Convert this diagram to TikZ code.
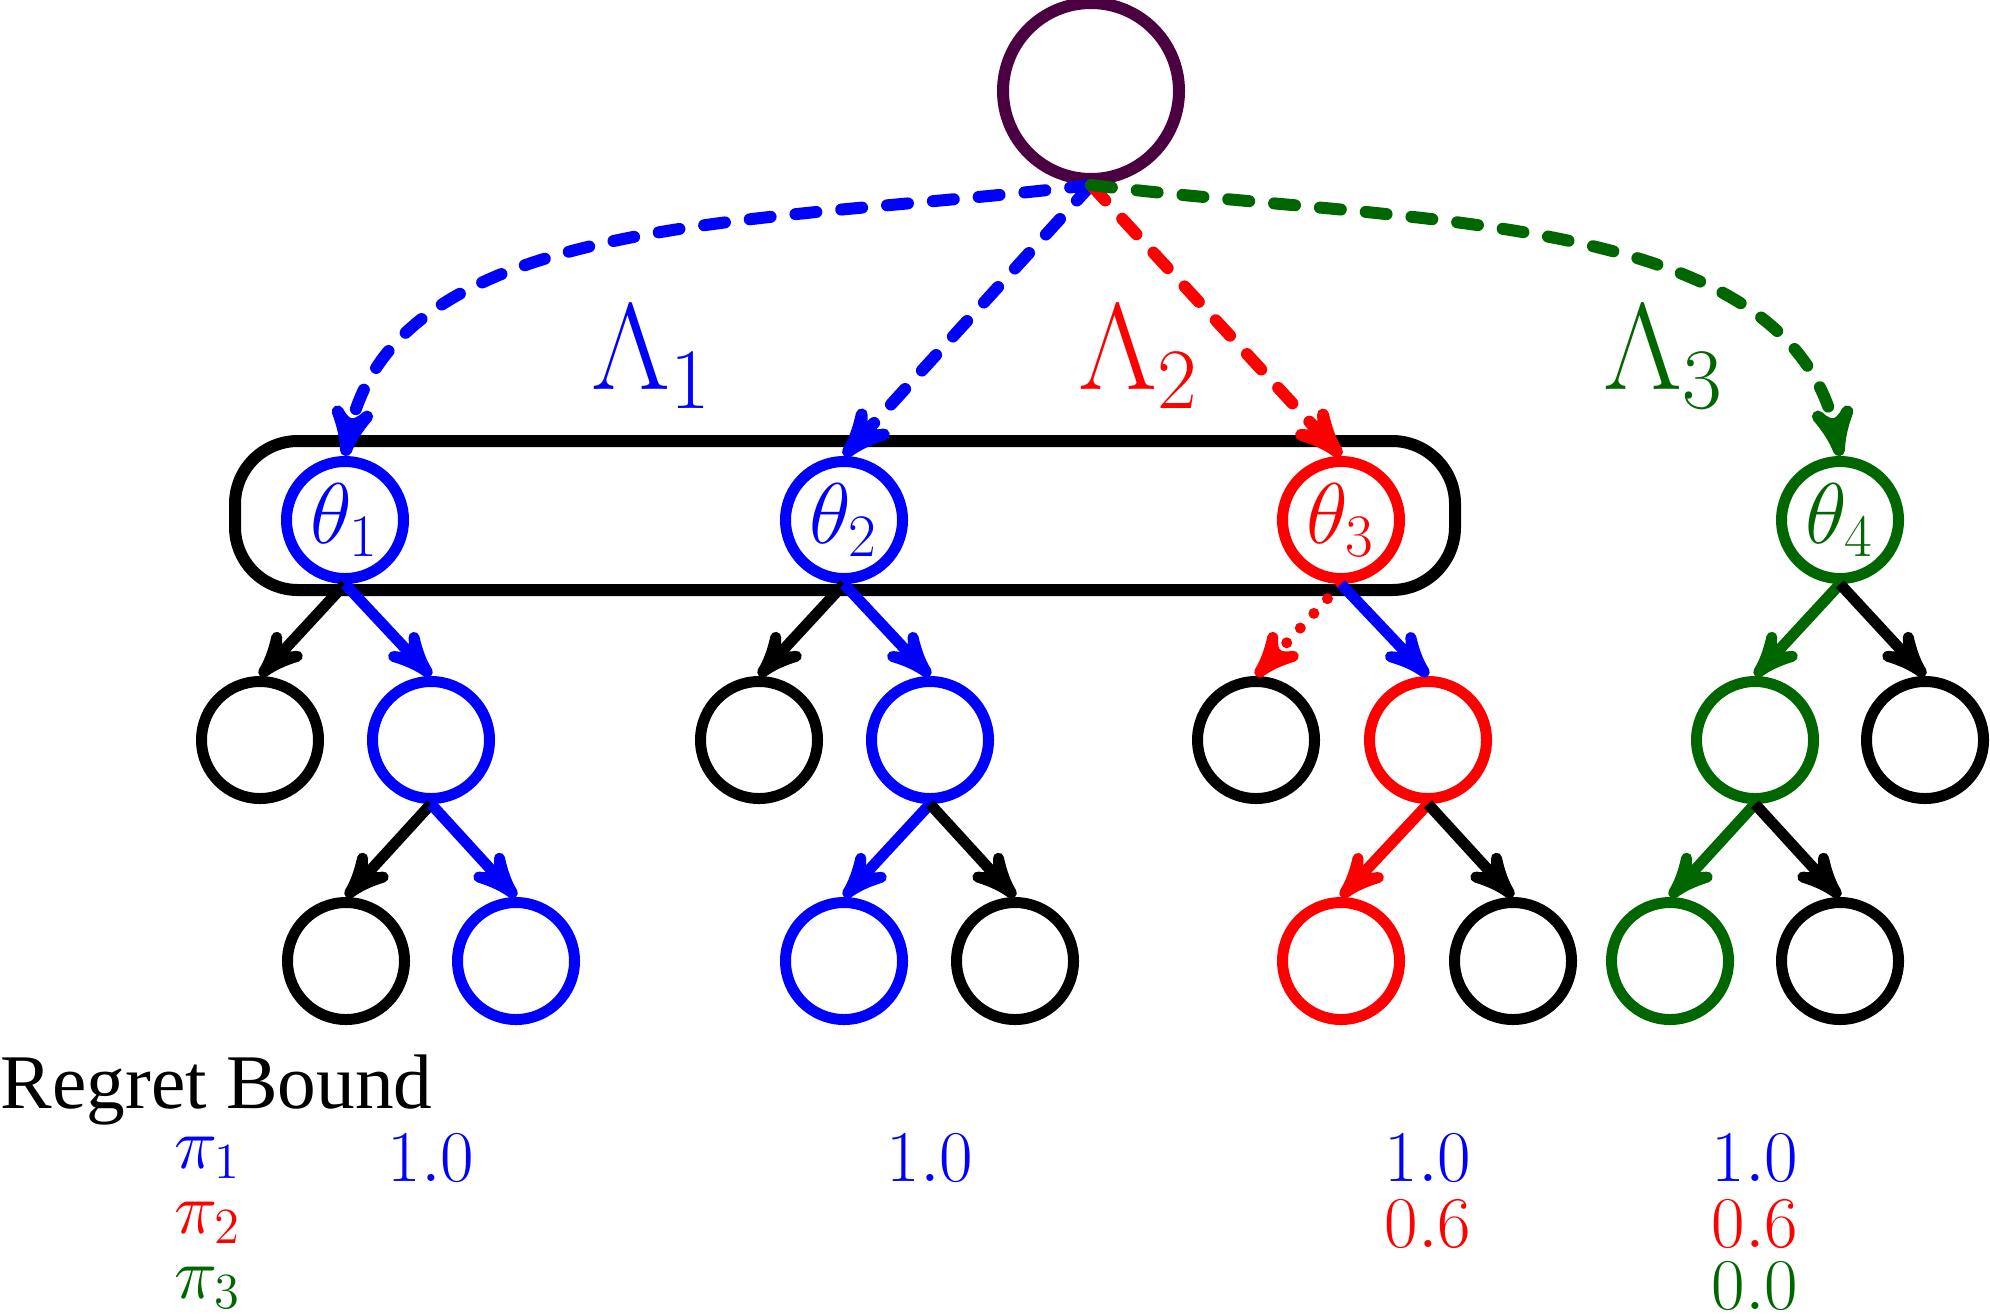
\RequirePackage{fix-cm}
\documentclass[tikz,border=0pt]{standalone}
\usepackage{amsmath}
\usepackage{amssymb}
\usepackage{fontspec}
\setmainfont{Liberation Serif}
\usetikzlibrary{arrows}
\definecolor{rootpurple}{RGB}{75,0,65}
\definecolor{dkgreen}{RGB}{0,102,0}

\begin{document}
\begin{tikzpicture}[
  state/.style={circle,draw,line width=0.11cm,minimum size=1.17cm,inner sep=0pt,font=\fontsize{24.5}{29}\selectfont},
  edge/.style={line width=0.11cm,-stealth'},
  link/.style={edge,line width=0.12cm,line cap=round,dash pattern=on 0.21cm off 0.25cm},
  dots/.style={edge,line cap=round,dash pattern=on 0cm off 0.2cm},
  lam/.style={font=\fontsize{35}{42}\selectfont},
  num/.style={anchor=base,inner sep=0pt,font=\fontsize{20.74}{25}\selectfont},
  pol/.style={anchor=base,inner sep=0pt,font=\fontsize{20.74}{25}\selectfont}]
\useasboundingbox (0,0) rectangle (19.9,-13.13);
\draw [line width=0.12cm,rounded corners=0.63cm] (2.35,-4.41) rectangle (14.55,-5.90);
% root and first level
\node [state,rootpurple,line width=0.12cm,minimum size=1.76cm] (root) at (10.91,-0.91) {};
\node [state,blue] (t1) at (3.45,-5.2) {$\theta_1$};
\node [state,blue] (t2) at (8.44,-5.2) {$\theta_2$};
\node [state,red] (t3) at (13.41,-5.2) {$\theta_3$};
\node [state,dkgreen] (t4) at (18.40,-5.2) {$\theta_4$};
% second level
\node [state] (t1l) at (2.60,-7.40) {};
\node [state,blue] (t1r) at (4.31,-7.40) {};
\node [state] (t2l) at (7.59,-7.40) {};
\node [state,blue] (t2r) at (9.30,-7.40) {};
\node [state] (t3l) at (12.56,-7.40) {};
\node [state,red] (t3r) at (14.28,-7.40) {};
\node [state,dkgreen] (t4l) at (17.55,-7.40) {};
\node [state] (t4r) at (19.25,-7.40) {};
% third level
\node [state] (t1rl) at (3.46,-9.61) {};
\node [state,blue] (t1rr) at (5.16,-9.61) {};
\node [state,blue] (t2rl) at (8.44,-9.61) {};
\node [state] (t2rr) at (10.15,-9.61) {};
\node [state,red] (t3rl) at (13.41,-9.61) {};
\node [state] (t3rr) at (15.13,-9.61) {};
\node [state,dkgreen] (t4ll) at (16.70,-9.61) {};
\node [state] (t4lr) at (18.40,-9.61) {};
% links from the root
\draw [link,blue] (root.south) .. controls +(187:3.3) and +(80:2.5) .. (t1.north);
\draw [link,blue] (root.south) -- (t2.north);
\draw [link,red] (root.south) -- (t3.north);
\draw [link,dkgreen] (root.south) .. controls +(-7:3.3) and +(100:2.5) .. (t4.north);
\node [lam,blue] (lam1) at (6.52,-3.57) {$\Lambda_1$};
\node [lam,red] (lam2) at (11.39,-3.57) {$\Lambda_2$};
\node [lam,dkgreen] (lam3) at (16.64,-3.57) {$\Lambda_3$};
% tree edges
\draw [edge] (t1.south) -- (t1l.north);
\draw [edge,blue] (t1.south) -- (t1r.north);
\draw [edge] (t1r.south) -- (t1rl.north);
\draw [edge,blue] (t1r.south) -- (t1rr.north);
\draw [edge] (t2.south) -- (t2l.north);
\draw [edge,blue] (t2.south) -- (t2r.north);
\draw [edge,blue] (t2r.south) -- (t2rl.north);
\draw [edge] (t2r.south) -- (t2rr.north);
\draw [dots,red] (t3.south) -- (t3l.north);
\draw [edge,blue] (t3.south) -- (t3r.north);
\draw [edge,red] (t3r.south) -- (t3rl.north);
\draw [edge] (t3r.south) -- (t3rr.north);
\draw [edge,dkgreen] (t4.south) -- (t4l.north);
\draw [edge] (t4.south) -- (t4r.north);
\draw [edge,dkgreen] (t4l.south) -- (t4ll.north);
\draw [edge] (t4l.south) -- (t4lr.north);
% regret bound table
\node [anchor=base west,inner sep=0pt,font=\fontsize{22}{26}\selectfont] (regret) at (0,-11.08) {Regret Bound};
\node [pol,blue] (p1) at (2.08,-11.68) {$\pi_1$};
\node [pol,red] (p2) at (2.08,-12.33) {$\pi_2$};
\node [pol,dkgreen] (p3) at (2.08,-12.98) {$\pi_3$};
\coordinate (row1) at (0,-11.81);
\coordinate (row2) at (0,-12.47);
\coordinate (row3) at (0,-13.09);
\node [num,blue] (b1a) at (t1r |- row1) {$1.0$};
\node [num,blue] (b1b) at (t2r |- row1) {$1.0$};
\node [num,blue] (b1c) at (t3r |- row1) {$1.0$};
\node [num,blue] (b1d) at (t4l |- row1) {$1.0$};
\node [num,red] (b2c) at (t3r |- row2) {$0.6$};
\node [num,red] (b2d) at (t4l |- row2) {$0.6$};
\node [num,dkgreen] (b3d) at (t4l |- row3) {$0.0$};
\end{tikzpicture}
\end{document}
